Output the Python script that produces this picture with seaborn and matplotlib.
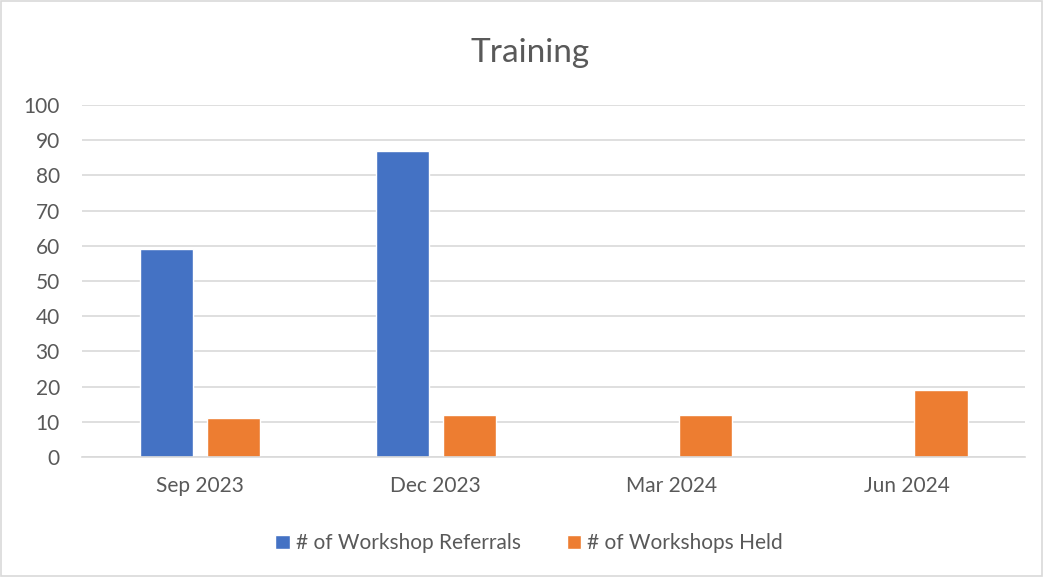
import pandas as pd
import numpy as np
import matplotlib.pyplot as plt
import seaborn as sns

# ==========================================================
# DATA
# ==========================================================

quarters = ["Sep 2023", "Dec 2023", "Mar 2024", "Jun 2024"]
referrals = [59, 87, np.nan, np.nan]
workshops_held = [11, 12, 12, 19]

series_names = ["# of Workshop Referrals", "# of Workshops Held"]
series_colors = ["#4472C4", "#ED7D31"]

df = pd.DataFrame({
    "Quarter": quarters,
    series_names[0]: referrals,
    series_names[1]: workshops_held,
})
long_df = df.melt(id_vars="Quarter", var_name="Series", value_name="Count")

# ==========================================================
# PLOT
# ==========================================================

sns.set_style("white")
plt.rcParams["font.family"] = ["Lato", "DejaVu Sans"]

fig = plt.figure(figsize=(10.43, 5.77), dpi=100)
ax = fig.add_axes([0.0786, 0.208, 0.9044, 0.610])

sns.barplot(
    data=long_df,
    x="Quarter",
    y="Count",
    hue="Series",
    order=quarters,
    hue_order=series_names,
    palette=series_colors,
    width=0.57,
    gap=0.21,
    saturation=1,
    ax=ax,
)

ax.set_ylim(0, 100)
ax.set_xlim(-0.5, len(quarters) - 0.5)
ax.set_yticks(range(0, 101, 10))
ax.yaxis.grid(True, color="#d9d9d9", linewidth=1.2)
ax.set_axisbelow(True)
ax.set_xlabel("")
ax.set_ylabel("")

for side in ["top", "right", "left"]:
    ax.spines[side].set_visible(False)
ax.spines["bottom"].set_color("#d9d9d9")
ax.spines["bottom"].set_linewidth(1.2)

ax.tick_params(axis="y", length=0, pad=16, labelsize=15, labelcolor="#595959")
ax.tick_params(axis="x", length=0, pad=14, labelsize=15, labelcolor="#595959")

fig.suptitle("Training", x=0.508, y=0.935, fontsize=24, color="#595959")

ax.legend(
    loc="upper center",
    bbox_to_anchor=(0.474, -0.163),
    ncol=2,
    frameon=False,
    fontsize=15,
    labelcolor="#595959",
    handlelength=0.7,
    handleheight=0.7,
    handletextpad=0.3,
    columnspacing=2.2,
)

fig.patches.append(plt.Rectangle(
    (0.001, 0.001), 0.998, 0.998,
    transform=fig.transFigure, fill=False, edgecolor="#d9d9d9", linewidth=1.2,
))

plt.savefig("out.png", dpi=100)
